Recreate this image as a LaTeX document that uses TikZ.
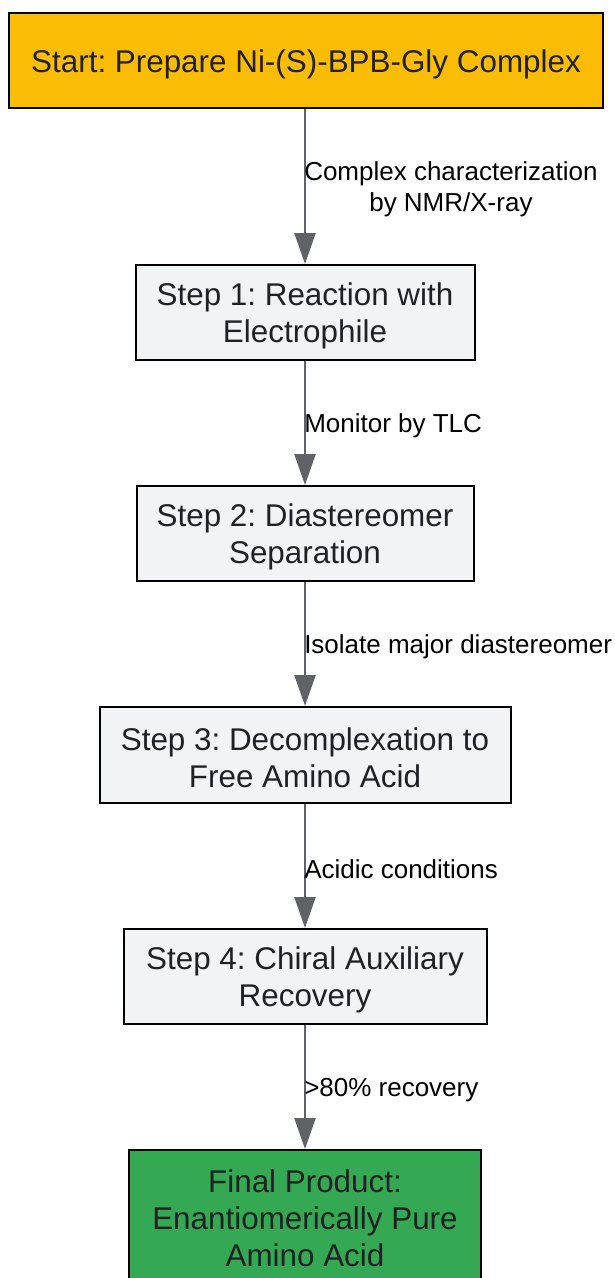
\documentclass[tikz,border=0pt]{standalone}
\usepackage{fontspec}
\setmainfont{Liberation Sans}
\usetikzlibrary{arrows.meta}
\definecolor{startc}{HTML}{FBBC05}
\definecolor{endc}{HTML}{34A853}
\definecolor{stepc}{HTML}{F1F3F4}
\definecolor{txtc}{HTML}{202124}
\definecolor{arrc}{HTML}{5F6368}
\frenchspacing
\newcommand\mytopstrut{\rule{0pt}{29pt}}
\tikzset{
  box/.style={draw=black, line width=2pt, align=center, inner sep=0pt, text=txtc,
    font=\fontsize{31.4}{37}\selectfont\frenchspacing},
  stepbox/.style={box, fill=stepc, minimum height=95pt},
  flow/.style={draw=arrc, line width=2.5pt, -{Triangle[length=31pt,width=21pt]}},
  lbl/.style={right, inner sep=0pt, xshift=-2pt, yshift=-3pt, align=center, text=black,
    font=\fontsize{26}{31}\selectfont\frenchspacing}
}
\begin{document}
\begin{tikzpicture}[x=1pt,y=-1pt]
\useasboundingbox (0,0) rectangle (614,1278);
\node[box, fill=startc, minimum width=594pt, minimum height=95pt] (start) at (306,60.5) {\rule{0pt}{30pt}Start: Prepare Ni-(S)-BPB-Gly Complex};
\node[stepbox, minimum width=339pt] (s1) at (305,312.5) {\mytopstrut Step 1: Reaction with\\Electrophile};
\node[stepbox, minimum width=337pt] (s2) at (305,533.5) {\mytopstrut Step 2: Diastereomer\\Separation};
\node[stepbox, minimum width=411pt, minimum height=96pt] (s3) at (305,755) {\mytopstrut Step 3: Decomplexation to\\Free Amino Acid};
\node[stepbox, minimum width=363pt] (s4) at (305,976.5) {\mytopstrut Step 4: Chiral Auxiliary\\Recovery};
\node[box, fill=endc, minimum width=352pt, minimum height=136pt] (fin) at (305,1218) {Final Product:\\Enantiomerically Pure\\Amino Acid};
\draw[flow] (start.south -| s1.north) -- node[lbl] {Complex characterization\\by NMR/X-ray} (s1.north);
\draw[flow] (s1.south) -- node[lbl] {Monitor by TLC} (s2.north);
\draw[flow] (s2.south) -- node[lbl] {Isolate major diastereomer} (s3.north);
\draw[flow] (s3.south) -- node[lbl] {Acidic conditions} (s4.north);
\draw[flow] (s4.south) -- node[lbl] {>80\% recovery} (fin.north);
\end{tikzpicture}
\end{document}
